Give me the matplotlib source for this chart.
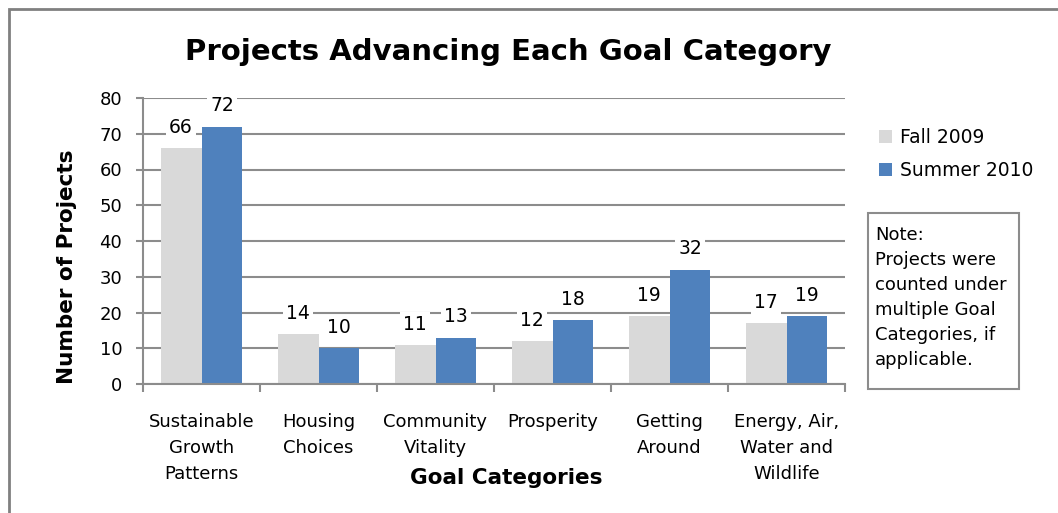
import matplotlib.pyplot as plt
import numpy as np
from matplotlib.patches import Rectangle

categories = ["Sustainable\nGrowth\nPatterns", "Housing\nChoices", "Community\nVitality",
              "Prosperity", "Getting\nAround", "Energy, Air,\nWater and\nWildlife"]
fall_2009 = [66, 14, 11, 12, 19, 17]
summer_2010 = [72, 10, 13, 18, 32, 19]

plt.rcParams['font.family'] = ['DejaVu Sans']
grid_col = '#8c8c8c'

fig = plt.figure(figsize=(10.58, 5.13), dpi=100)
ax = fig.add_axes([143 / 1058, 1 - 384 / 513, 702 / 1058, 286 / 513])

x = np.arange(len(categories))
w = 0.35
b1 = ax.bar(x - w / 2, fall_2009, w, color='#d9d9d9', label='Fall 2009', zorder=2)
b2 = ax.bar(x + w / 2, summer_2010, w, color='#4f81bd', label='Summer 2010', zorder=2)

# value labels on white boxes, they cut through the gridlines like in Excel
for bars in (b1, b2):
    for r in bars:
        ax.annotate(str(int(r.get_height())), (r.get_x() + r.get_width() / 2, r.get_height()),
                    xytext=(0, 8), textcoords='offset points', ha='center', va='bottom',
                    fontsize=13.5, zorder=4,
                    bbox=dict(facecolor='white', edgecolor='none', pad=2))

ax.set_xlim(-0.5, len(categories) - 0.5)
ax.set_ylim(0, 80)
ax.set_yticks(range(0, 81, 10))
ax.yaxis.grid(True, color=grid_col, linewidth=1.5, zorder=0)
ax.set_axisbelow(True)
for s in ('top', 'right'):
    ax.spines[s].set_visible(False)
for s in ('left', 'bottom'):
    ax.spines[s].set_color(grid_col)
    ax.spines[s].set_linewidth(1.5)

# ticks between groups, labels in the middle
ax.set_xticks(np.arange(-0.5, len(categories), 1))
ax.set_xticklabels([])
ax.set_xticks(x, minor=True)
ax.set_xticklabels(categories, minor=True, fontsize=13, linespacing=1.55, va='top')
ax.tick_params(axis='x', which='minor', length=0, pad=21)
ax.tick_params(axis='x', which='major', length=6, width=1.5, color=grid_col)
ax.tick_params(axis='y', length=5, width=1.5, color=grid_col, labelsize=13, pad=10)

ax.set_ylabel('Number of Projects', fontsize=15.5, fontweight='bold')
ax.yaxis.set_label_coords(-0.094, 0.41)
ax.text(0.518, -0.33, 'Goal Categories', transform=ax.transAxes, ha='center', va='center',
        fontsize=15.5, fontweight='bold')

fig.text(508 / 1058, 1 - 52 / 513, 'Projects Advancing Each Goal Category', ha='center',
         va='center', fontsize=21, fontweight='bold')

fig.legend(handles=[b1, b2], loc='upper left', bbox_to_anchor=(862 / 1058, 1 - 111 / 513),
           frameon=False, fontsize=13.5, handlelength=0.7, handleheight=0.7,
           handletextpad=0.4, labelspacing=0.75)

fig.text(875 / 1058, 1 - 226 / 513,
         'Note:\nProjects were\ncounted under\nmultiple Goal\nCategories, if\napplicable.',
         ha='left', va='top', fontsize=13, linespacing=1.5)
fig.patches.append(Rectangle((868 / 1058, 1 - 389 / 513), 151 / 1058, 176 / 513,
                             transform=fig.transFigure, fill=False, edgecolor=grid_col,
                             linewidth=1.5))
fig.patches.append(Rectangle((9 / 1058, -0.1), 1.2, 1 - 9 / 513 + 0.1,
                             transform=fig.transFigure, fill=False, edgecolor='#808080',
                             linewidth=2))

fig.savefig('out.png', dpi=100)
